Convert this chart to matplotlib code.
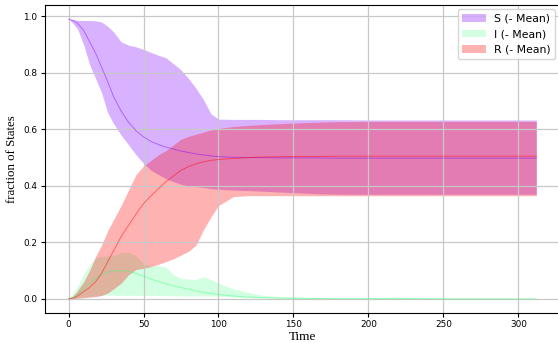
import numpy as np
import matplotlib
matplotlib.use("Agg")
import matplotlib.pyplot as plt

# time grid and per-state min / mean / max over the runs
t = [0, 3, 6, 10, 14, 18, 22, 26, 30, 35, 40, 45, 50, 55, 60, 65, 70, 75, 80, 85,
     90, 95, 100, 110, 120, 130, 140, 150, 165, 180, 200, 220, 240, 260, 280, 300, 312]

s_mean = [0.99, 0.985, 0.975, 0.95, 0.91, 0.87, 0.82, 0.77, 0.716, 0.665, 0.625, 0.595, 0.573,
          0.557, 0.546, 0.537, 0.53, 0.523, 0.518, 0.513, 0.509, 0.506, 0.503, 0.501, 0.5, 0.5,
          0.499, 0.499, 0.499, 0.498, 0.498, 0.498, 0.498, 0.498, 0.498, 0.498, 0.498]
s_hi = [0.99, 0.988, 0.986, 0.985, 0.985, 0.984, 0.98, 0.965, 0.945, 0.91, 0.898, 0.892, 0.883,
        0.872, 0.862, 0.853, 0.832, 0.81, 0.78, 0.745, 0.705, 0.655, 0.636, 0.635, 0.635, 0.635,
        0.634, 0.634, 0.634, 0.634, 0.633, 0.633, 0.633, 0.633, 0.633, 0.633, 0.633]
s_lo = [0.99, 0.975, 0.955, 0.9, 0.83, 0.78, 0.73, 0.66, 0.62, 0.58, 0.545, 0.51, 0.48, 0.455,
        0.44, 0.425, 0.415, 0.405, 0.4, 0.397, 0.394, 0.39, 0.388, 0.385, 0.383, 0.381, 0.378,
        0.376, 0.372, 0.37, 0.37, 0.37, 0.37, 0.37, 0.37, 0.37, 0.37]

i_mean = [0.0, 0.005, 0.015, 0.035, 0.055, 0.072, 0.085, 0.094, 0.099, 0.1, 0.097, 0.09, 0.08,
          0.07, 0.061, 0.053, 0.046, 0.04, 0.034, 0.028, 0.023, 0.019, 0.015, 0.01, 0.006, 0.004,
          0.003, 0.002, 0.001, 0.0005, 0.0005, 0.0003, 0.0003, 0.0002, 0.0001, 0.0, 0.0]
i_hi = [0.0, 0.02, 0.045, 0.085, 0.12, 0.145, 0.15, 0.152, 0.155, 0.163, 0.165, 0.152, 0.125,
        0.115, 0.118, 0.112, 0.085, 0.072, 0.07, 0.068, 0.078, 0.068, 0.056, 0.035, 0.022, 0.012,
        0.008, 0.007, 0.005, 0.003, 0.004, 0.006, 0.003, 0.002, 0.002, 0.001, 0.001]
i_lo = [0.0, 0.001, 0.003, 0.005, 0.008, 0.01, 0.012, 0.013, 0.013, 0.012, 0.013, 0.012, 0.012,
        0.012, 0.012, 0.011, 0.011, 0.01, 0.01, 0.01, 0.01, 0.01, 0.009, 0.007, 0.005, 0.003,
        0.002, 0.001, 0.0, 0.0, 0.0, 0.0, 0.0, 0.0, 0.0, 0.0, 0.0]

r_mean = [0.0, 0.003, 0.01, 0.025, 0.04, 0.06, 0.09, 0.13, 0.17, 0.22, 0.26, 0.3, 0.337, 0.365,
          0.39, 0.415, 0.435, 0.455, 0.468, 0.478, 0.485, 0.49, 0.493, 0.497, 0.5, 0.502, 0.503,
          0.504, 0.504, 0.505, 0.505, 0.505, 0.505, 0.505, 0.505, 0.505, 0.505]
r_hi = [0.0, 0.01, 0.03, 0.06, 0.1, 0.15, 0.19, 0.24, 0.28, 0.33, 0.385, 0.44, 0.47, 0.49, 0.51,
        0.525, 0.545, 0.565, 0.575, 0.583, 0.59, 0.598, 0.603, 0.61, 0.614, 0.617, 0.62, 0.622,
        0.625, 0.627, 0.628, 0.628, 0.628, 0.628, 0.628, 0.628, 0.628]
r_lo = [0.0, 0.001, 0.002, 0.004, 0.006, 0.008, 0.012, 0.02, 0.035, 0.055, 0.085, 0.104, 0.108,
        0.114, 0.122, 0.132, 0.142, 0.155, 0.168, 0.19, 0.245, 0.29, 0.33, 0.362, 0.365, 0.365,
        0.365, 0.365, 0.365, 0.365, 0.365, 0.365, 0.365, 0.365, 0.365, 0.365, 0.365]

states = [("S", s_lo, s_mean, s_hi, "#7f00ff", 0.3),
          ("I", i_lo, i_mean, i_hi, "#33ff77", 0.22),
          ("R", r_lo, r_mean, r_hi, "#ff0000", 0.3)]

fig = plt.figure(figsize=(5.58, 3.43), dpi=100)
ax = fig.add_axes([0.081, 0.088, 0.922, 0.897])
for name, lo, mean, hi, col, a in states:
    ax.fill_between(t, lo, hi, color=col, alpha=a, lw=0, label=f"{name} (- Mean)")
    ax.plot(t, mean, color=col, lw=0.7, alpha=0.45)

ax.grid(True, color="#c8c8c8", lw=0.9)
ax.tick_params(labelsize=6.4, length=3, pad=2.5)
ax.set_xlabel("Time", family="Liberation Serif", fontsize=9.5, labelpad=1)
ax.set_ylabel("fraction of States", family="Liberation Serif", fontsize=9.3, labelpad=4)
ax.legend(loc="upper right", fontsize=7.8, handlelength=2.2, borderaxespad=0.4)
fig.savefig("out.png")
